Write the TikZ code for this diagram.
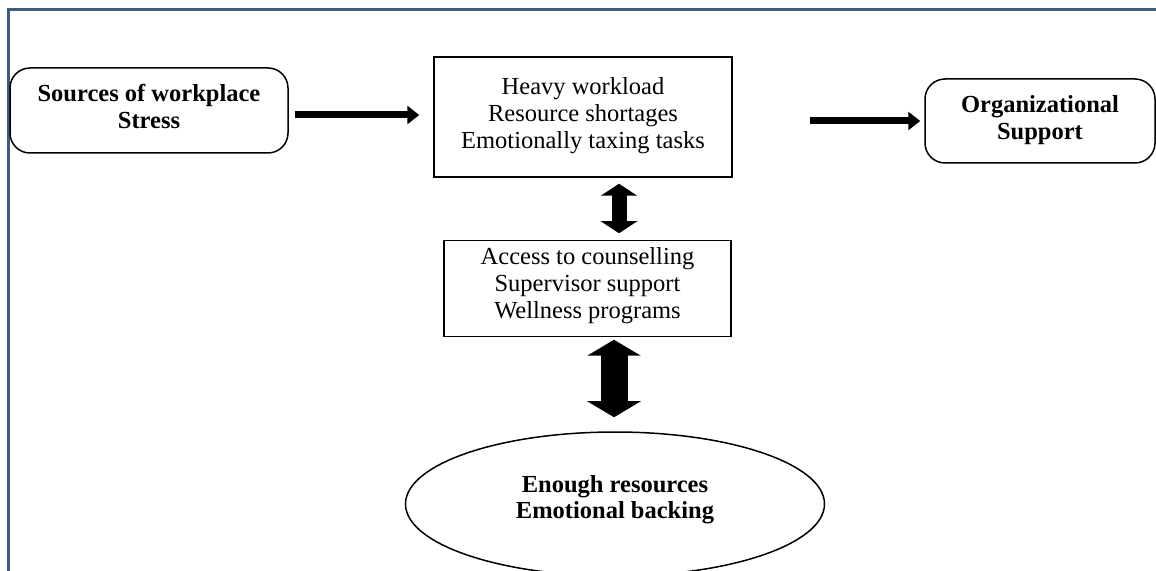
\documentclass[tikz,border=0pt]{standalone}
\usepackage{fontspec}
\setmainfont{Liberation Serif}
\usetikzlibrary{arrows.meta,shapes.geometric}
\definecolor{framecol}{HTML}{3D5C7E}
\begin{document}
\begin{tikzpicture}[x=0.5pt,y=-0.5pt,
  txt/.style={font=\fontsize{12.25}{13.6}\selectfont, align=center, inner sep=0pt},
  btxt/.style={txt, font=\fontsize{12.25}{13.6}\selectfont\bfseries},
  rbox/.style={draw, line width=0.75pt, rounded corners=10pt, inner sep=0pt},
  sbox/.style={draw, line width=0.75pt, inner sep=0pt},
  thinarrow/.style={line width=3.5pt, -{Triangle[length=6pt,width=9pt]}},
  fatarrowA/.style={line width=7.5pt, {Triangle[length=6pt,width=18pt]}-{Triangle[length=6pt,width=18pt]}},
  fatarrowB/.style={line width=13.5pt, {Triangle[length=8pt,width=26.5pt]}-{Triangle[length=8pt,width=26.5pt]}}]
\useasboundingbox (0,0) rectangle (1156,571);
\clip (0,0) rectangle (1156,571);
\fill[white] (0,0) rectangle (1156,571);
% frame
\draw[framecol, line width=1.25pt] (8.7,575) -- (8.7,9.3) -- (1160,9.3);
% boxes
\node[rbox, minimum width=139pt, minimum height=42.5pt] (src) at (149,110.5) {};
\node[sbox, minimum width=149pt, minimum height=60pt] (dem) at (583,117) {};
\node[rbox, minimum width=115pt, minimum height=42pt] (org) at (1040,121) {};
\node[sbox, minimum width=143.5pt, minimum height=48pt] (res) at (587.5,288.5) {};
\node[ellipse, draw, line width=0.75pt, minimum width=209.5pt, minimum height=72pt, inner sep=0pt] (out) at (615,504) {};
% texts
\node[btxt] (srct) at ([yshift=2pt]src.center) {Sources of workplace\\Stress};
\node[txt] (demt) at ([yshift=0.6pt]dem.center) {Heavy workload\\Resource shortages\\Emotionally taxing tasks};
\node[btxt] (orgt) at ([yshift=0.3pt]org.center) {Organizational\\Support};
\node[txt] (rest) at ([yshift=1.3pt]res.center) {Access to counselling\\Supervisor support\\Wellness programs};
\node[btxt, font=\fontsize{12.25}{13}\selectfont\bfseries] (outt) at ([yshift=1.9pt]out.center) {Enough resources\\Emotional backing};
% connectors
\draw[thinarrow, shorten <=3pt, shorten >=7pt] (src.east |- 0,115) -- (dem.west |- 0,115);
\draw[thinarrow, shorten <=38.5pt, shorten >=2pt] (dem.east |- 0,121) -- (org.west |- 0,121);
\draw[fatarrowA, shorten <=3pt, shorten >=3.25pt] (dem.south -| 619,0) -- (res.north -| 619,0);
\draw[fatarrowB, shorten <=1.25pt, shorten >=7pt] (res.south -| 614,0) -- (out.north -| 614,0);
\end{tikzpicture}
\end{document}
